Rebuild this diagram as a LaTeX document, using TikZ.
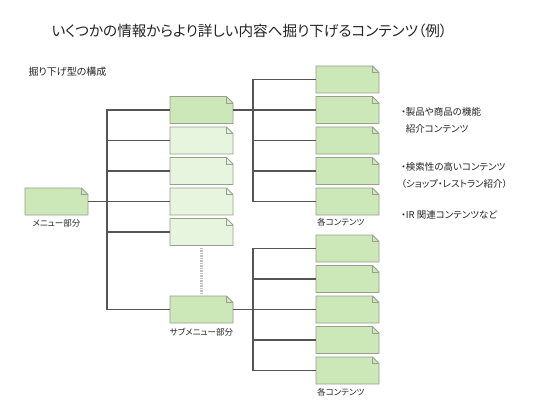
\documentclass[tikz,border=0pt]{standalone}
\usepackage{fontspec}
\setmainfont{Noto Sans CJK JP}[RawFeature=+palt]
\usetikzlibrary{positioning}
\definecolor{notegreen}{RGB}{205,232,184}
\definecolor{notelight}{RGB}{232,245,222}
\definecolor{noteedge}{RGB}{150,160,140}
\definecolor{linkgray}{RGB}{85,85,85}
\definecolor{txtgray}{RGB}{35,35,35}
\tikzset{
  note/.style={rectangle, minimum width=63pt, minimum height=27pt, inner sep=0pt, outer sep=0pt},
  noteline/.style={draw=noteedge, line width=0.8pt, line join=miter},
  link/.style={draw=linkgray, line width=1.4pt},
  dotline/.style={draw=gray!50, line width=2.5pt, dash pattern=on 1.5pt off 1pt},
  notecap/.style={font=\fontsize{8.5}{10}\selectfont, text=txtgray, inner sep=0pt},
  bullet/.style={font=\fontsize{9.5}{17}\selectfont, text=txtgray, align=left, anchor=north west, inner sep=0pt}
}
\begin{document}
\begin{tikzpicture}[x=1pt, y=-1pt]
  \useasboundingbox (0,0) rectangle (554,409);

  \node (title) [anchor=west, text=txtgray, font=\fontsize{14.6}{16}\selectfont] at (48,31) {いくつかの情報からより詳しい内容へ掘り下げるコンテンツ（例）};
  \node (subtitle) [anchor=west, text=txtgray, font=\fontsize{10}{12}\selectfont] at (25,72) {掘り下げ型の構成};

  % メニュー
  \node (menu) [note] at (56.5,201.5) {};
  \node (menucap) [notecap, below=4.5pt of menu] {メニュー部分};

  % サブメニュー
  \node (s1) [note] at (201.5,110) {};
  \node (s2) [note, below=3.5pt of s1] {};
  \node (s3) [note, below=3.5pt of s2] {};
  \node (s4) [note, below=3.5pt of s3] {};
  \node (s5) [note, below=3.5pt of s4] {};
  \node (s6) [note] at (201.5,309.5) {};
  \node (s6cap) [notecap, below=5pt of s6] {サブメニュー部分};

  % 各コンテンツ（上）
  \node (a1) [note] at (347.5,79.5) {};
  \node (a2) [note, below=3.5pt of a1] {};
  \node (a3) [note, below=3.5pt of a2] {};
  \node (a4) [note, below=3.5pt of a3] {};
  \node (a5) [note, below=3.5pt of a4] {};
  \node (acap) [notecap, anchor=north west] at ([xshift=1pt,yshift=-3pt]a5.south west) {各コンテンツ};

  % 各コンテンツ（下）
  \node (b1) [note] at (347.5,248.5) {};
  \node (b2) [note, below=3.5pt of b1] {};
  \node (b3) [note, below=3.5pt of b2] {};
  \node (b4) [note, below=3.5pt of b3] {};
  \node (b5) [note, below=3.5pt of b4] {};
  \node (bcap) [notecap, anchor=north west] at ([xshift=1pt,yshift=-4pt]b5.south west) {各コンテンツ};

  % 折り目付きの紙
  \foreach \n/\c in {menu/notegreen, s1/notegreen, s2/notelight, s3/notelight, s4/notelight, s5/notelight, s6/notegreen,
                     a1/notegreen, a2/notegreen, a3/notegreen, a4/notegreen, a5/notegreen,
                     b1/notegreen, b2/notegreen, b3/notegreen, b4/notegreen, b5/notegreen} {
    \draw[noteline, fill=\c] (\n.north west) -- ([xshift=-6.5pt]\n.north east) -- ([yshift=-6.5pt]\n.north east)
      -- (\n.south east) -- (\n.south west) -- cycle;
    \draw[noteline] ([xshift=-6.5pt]\n.north east) -- ([xshift=-6.5pt,yshift=-6.5pt]\n.north east) -- ([yshift=-6.5pt]\n.north east);
  }

  % 分岐点
  \coordinate (trunk) at (107,201.5);
  \coordinate (branchA) at (253,110);
  \coordinate (branchB) at (253,309.5);

  % メニューからサブメニューへ
  \foreach \s in {s1,s2,s3,s4,s5,s6}
    \draw[link] (menu.east) -- (trunk) |- (\s.west);
  \draw[dotline, shorten <=2pt, shorten >=3pt] (s5.south) -- (s6.north);

  % サブメニューから各コンテンツへ
  \foreach \a in {a1,a2,a3,a4,a5}
    \draw[link] (s1.east) -- (branchA) |- (\a.west);
  \foreach \b in {b1,b2,b3,b4,b5}
    \draw[link] (s6.east) -- (branchB) |- (\b.west);

  % 説明
  \node (note1) [bullet] at (401,107) {・製品や商品の機能\\\phantom{・}紹介コンテンツ};
  \node (note2) [bullet] at (401,162) {・検索性の高いコンテンツ\\（ショップ・レストラン紹介）};
  \node (note3) [bullet] at (401,210) {・IR 関連コンテンツなど};
\end{tikzpicture}
\end{document}
